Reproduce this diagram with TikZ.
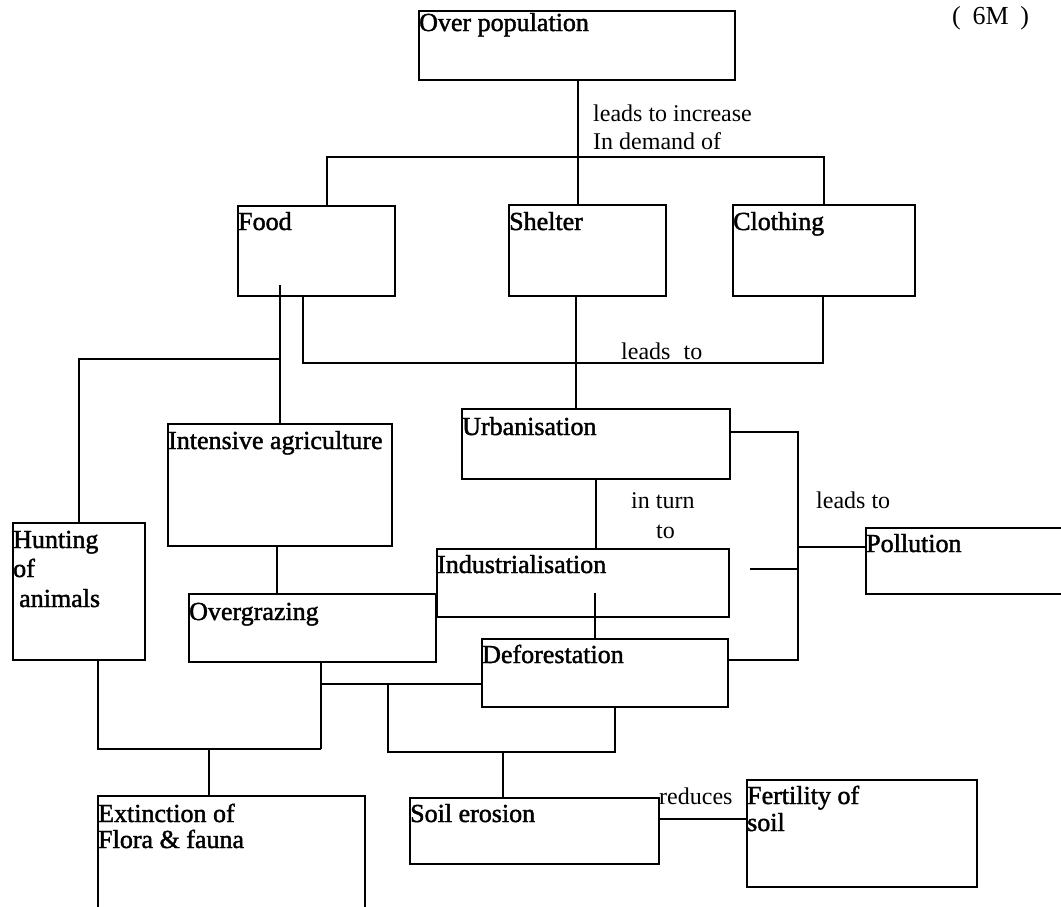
\documentclass[tikz,border=0pt]{standalone}
\usepackage{fontspec}
\setmainfont{Liberation Serif}
\newfontfamily\boxfont{Liberation Serif}[FakeBold=1.6]
\begin{document}
\begin{tikzpicture}[x=1pt,y=-1pt,
  box/.style={draw, line width=2pt, inner sep=0pt, anchor=north west},
  btext/.style={font=\boxfont\fontsize{26}{30}\selectfont, inner sep=0pt, anchor=base west},
  ltext/.style={font=\fontsize{24}{28}\selectfont, inner sep=0pt, anchor=base west},
  wire/.style={line width=2pt}]
\useasboundingbox[fill=white] (0,0) rectangle (1061,906);
\clip (0,0) rectangle (1061,906);

% ---- boxes ----
\node[box, minimum width=316pt, minimum height=69pt]  (over)    at (418,10)  {};
\node[box, minimum width=157pt, minimum height=90pt]  (food)    at (237,205) {};
\node[box, minimum width=157pt, minimum height=91pt]  (shelter) at (508,204) {};
\node[box, minimum width=182pt, minimum height=91pt]  (cloth)   at (732,204) {};
\node[box, minimum width=224pt, minimum height=122pt] (intagr)  at (167,423) {};
\node[box, minimum width=268pt, minimum height=70pt]  (urban)   at (461,408) {};
\node[box, minimum width=132pt, minimum height=137pt] (hunting) at (12,522)  {};
\node[box, minimum width=292pt, minimum height=68pt]  (indus)   at (436,548) {};
\node[box, minimum width=210pt, minimum height=66pt]  (pollu)   at (865,527) {};
\node[box, minimum width=247pt, minimum height=68pt]  (overgr)  at (188,593) {};
\node[box, minimum width=246pt, minimum height=68pt]  (defor)   at (481,638) {};
\node[box, minimum width=267pt, minimum height=140pt] (extinct) at (97,795)  {};
\node[box, minimum width=249pt, minimum height=66pt]  (soil)    at (409,797) {};
\node[box, minimum width=230pt, minimum height=107pt] (fert)    at (746,779) {};

% ---- box texts ----
\node[btext, xshift=1pt, yshift=-21pt] (over-t)    at (over.north west)    {Over population};
\node[btext, xshift=1pt, yshift=-25pt] (food-t)    at (food.north west)    {Food};
\node[btext, xshift=1pt, yshift=-26pt] (shelter-t) at (shelter.north west) {Shelter};
\node[btext, xshift=1pt, yshift=-26pt] (cloth-t)   at (cloth.north west)   {Clothing};
\node[btext, xshift=1pt, yshift=-26pt] (intagr-t)  at (intagr.north west)  {Intensive agriculture};
\node[btext, xshift=1pt, yshift=-27pt] (urban-t)   at (urban.north west)   {Urbanisation};
\node[btext, xshift=1pt, yshift=-26pt] (hunt-t1)   at (hunting.north west) {Hunting};
\node[btext, xshift=1pt, yshift=-55pt] (hunt-t2)   at (hunting.north west) {of};
\node[btext, xshift=7pt, yshift=-85pt] (hunt-t3)   at (hunting.north west) {animals};
\node[btext, xshift=1pt, yshift=-25pt] (indus-t)   at (indus.north west)   {Industrialisation};
\node[btext, xshift=1pt, yshift=-25pt] (pollu-t)   at (pollu.north west)   {Pollution};
\node[btext, xshift=1pt, yshift=-27pt] (overgr-t)  at (overgr.north west)  {Overgrazing};
\node[btext, xshift=1pt, yshift=-25pt] (defor-t)   at (defor.north west)   {Deforestation};
\node[btext, xshift=1pt, yshift=-27pt] (ext-t1)    at (extinct.north west) {Extinction of};
\node[btext, xshift=1pt, yshift=-53pt] (ext-t2)    at (extinct.north west) {Flora \& fauna};
\node[btext, xshift=1pt, yshift=-25pt] (soil-t)    at (soil.north west)    {Soil erosion};
\node[btext, xshift=1pt, yshift=-25pt] (fert-t1)   at (fert.north west)    {Fertility of};
\node[btext, xshift=1pt, yshift=-52pt] (fert-t2)   at (fert.north west)    {soil};

% ---- mark ----
\node[ltext, font=\fontsize{26}{30}\selectfont] (marks) at (952,24) {(\hspace{0.45em}6M\hspace{0.45em})};

% ---- over population -> needs ----
\coordinate (a0) at (327,157);
\coordinate (a1) at (578,157);
\coordinate (a2) at (824,157);
\draw[wire] (over.south -| a1) -- (a1);
\draw[wire] (food.north -| a0) -- (a0) -- (a2) -- (cloth.north -| a2);
\draw[wire] (a1) -- (shelter.north -| a1);
\node[ltext] (lab1) at (593,121) {leads to increase};
\node[ltext] (lab2) at (593,149) {In demand of};

% ---- needs -> urbanisation ----
\coordinate (b0) at (303,363);
\coordinate (b1) at (823,363);
\coordinate (b2) at (576,363);
\draw[wire] (food.south -| b0) -- (b0) -- (b1) -- (cloth.south -| b1);
\draw[wire] (shelter.south -| b2) -- (urban.north -| b2);
\node[ltext] (lab3) at (621,359) {leads\hspace{0.55em}to};

% ---- food -> intensive agriculture, hunting ----
\coordinate (c0) at (280,285);
\coordinate (c1) at (280,359);
\coordinate (c2) at (79,359);
\draw[wire] (c0) -- (intagr.north -| c0);
\draw[wire] (c1) -- (c2) -- (hunting.north -| c2);

% ---- intensive agriculture -> overgrazing ----
\coordinate (d0) at (277,570);
\draw[wire] (intagr.south -| d0) -- (overgr.north -| d0);

% ---- urbanisation -> industrialisation ----
\coordinate (e0) at (596,510);
\draw[wire] (urban.south -| e0) -- (indus.north -| e0);
\node[ltext] (lab4) at (631,508) {in turn};
\node[ltext] (lab5) at (656,538) {to};

% ---- urbanisation -> pollution, deforestation ----
\coordinate (f0) at (798,432);
\coordinate (f1) at (798,660);
\coordinate (f2) at (798,547);
\coordinate (f3) at (798,569);
\coordinate (f4) at (750,569);
\draw[wire] (urban.east |- f0) -- (f0) -- (f1) -- (defor.east |- f1);
\draw[wire] (f2) -- (pollu.west |- f2);
\draw[wire] (f4) -- (f3);
\node[ltext] (lab6) at (816,508) {leads to};

% ---- industrialisation -> deforestation ----
\coordinate (g0) at (595,593);
\draw[wire] (g0) -- (defor.north -| g0);

% ---- overgrazing, hunting -> extinction ----
\coordinate (h0) at (321,684);
\coordinate (h1) at (321,749);
\coordinate (h2) at (98,749);
\coordinate (h3) at (209,749);
\draw[wire] (overgr.south -| h1) -- (h1);
\draw[wire] (h0) -- (defor.west |- h0);
\draw[wire] (hunting.south -| h2) -- (h2) -- (h1);
\draw[wire] (h3) -- (extinct.north -| h3);

% ---- deforestation -> soil erosion ----
\coordinate (i0) at (615,752);
\coordinate (i1) at (388,752);
\coordinate (i2) at (388,684);
\coordinate (i3) at (503,752);
\draw[wire] (defor.south -| i0) -- (i0) -- (i1) -- (i2);
\draw[wire] (i3) -- (soil.north -| i3);

% ---- soil erosion -> fertility ----
\coordinate (j0) at (700,819);
\draw[wire] (soil.east |- j0) -- (fert.west |- j0);
\node[ltext] (lab7) at (659,804) {reduces};
\end{tikzpicture}
\end{document}
